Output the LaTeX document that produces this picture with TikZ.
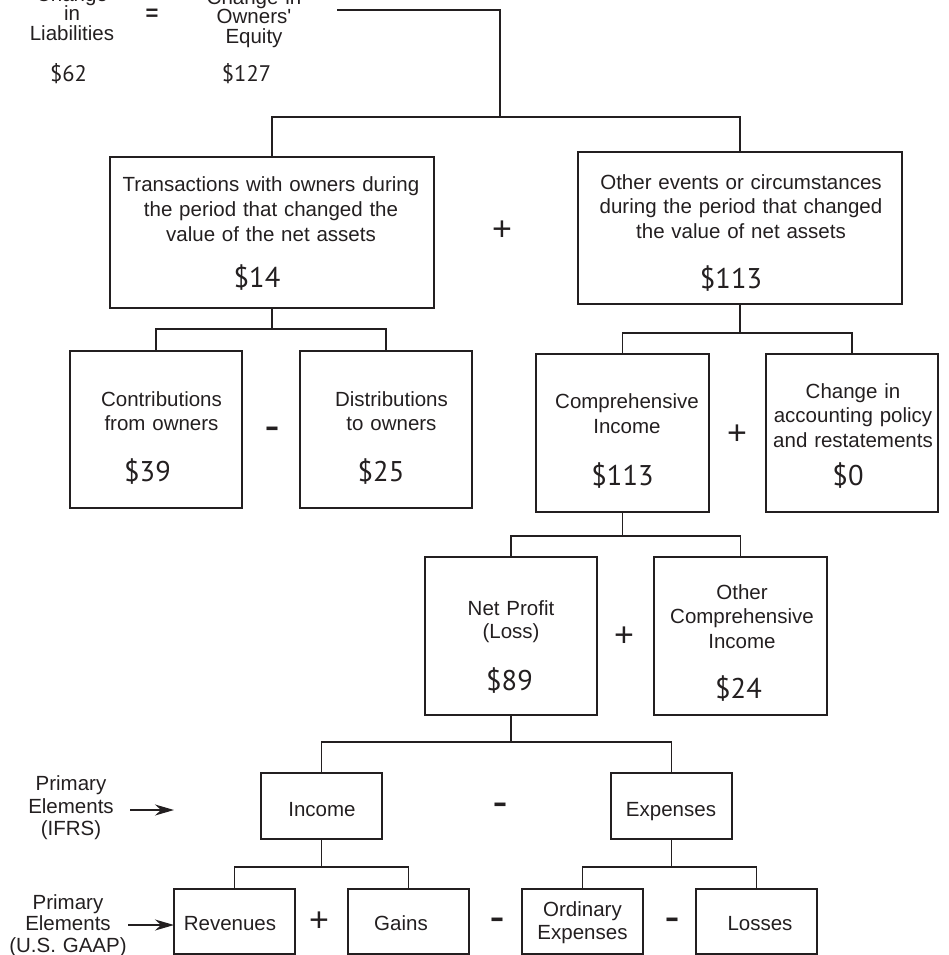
\documentclass[tikz,border=0pt]{standalone}
\usepackage{fontspec}
\setmainfont{Liberation Sans}
\newfontfamily\numfont{PT Sans}
\newfontfamily\opfont{DejaVu Sans}
\usetikzlibrary{arrows.meta}
\definecolor{ink}{HTML}{231F20}
\newcommand\treebranch[4]{%
  \draw[conn] (#1.south) -- (#1.south |- #4);
  \draw[conn] (#2.north) |- (#1.south |- #4) -| (#3.north);}
\begin{document}
\begin{tikzpicture}[x=1pt,y=-1pt,
  every node/.style={inner sep=0pt,outer sep=0pt,text=ink},
  box/.style={draw=ink,line width=1.5pt},
  conn/.style={draw=ink,line width=1.5pt},
  arr/.style={draw=ink,line width=1.5pt,-{Stealth[length=19pt,width=11pt,inset=6pt]}},
  lbl/.style={text width=420pt,align=center,anchor=base},
  num/.style={anchor=base,font=\numfont\fontsize{28.5}{30}\selectfont},
  topnum/.style={anchor=base,font=\numfont\fontsize{22.5}{24}\selectfont},
  plusop/.style={font=\fontsize{34}{34}\selectfont},
  minusop/.style={font=\opfont\bfseries\fontsize{28}{28}\selectfont},
]
\useasboundingbox (0,0) rectangle (948,955);

% top equation
\node[lbl,font=\fontsize{20.5}{19.5}\selectfont] (cl) at (72,1.5) {Change\\in\\Liabilities};
\node[font=\bfseries\fontsize{22}{22}\selectfont] (eq) at (152,15) {=};
\node[lbl,font=\fontsize{20.5}{19.5}\selectfont] (coe) at (254,4.5) {Change in\\Owners\textquotesingle\\Equity};
\node[topnum] (v62) at (68.5,81.7) {\$62};
\node[topnum] (v127) at (246.5,81.7) {\$127};

% boxes
\node[box,minimum width=324pt,minimum height=151pt] (b1) at (272,232.5) {};
\node[box,minimum width=324pt,minimum height=152pt] (b2) at (740,228) {};
\node[box,minimum width=172pt,minimum height=157pt] (b3) at (156,429.5) {};
\node[box,minimum width=172pt,minimum height=157pt] (b4) at (386,429.5) {};
\node[box,minimum width=173pt,minimum height=158pt] (b5) at (622.5,433) {};
\node[box,minimum width=172pt,minimum height=158pt] (b6) at (852,433) {};
\node[box,minimum width=172pt,minimum height=158pt] (b7) at (511,636) {};
\node[box,minimum width=173pt,minimum height=158pt] (b8) at (740.5,636) {};
\node[box,minimum width=121pt,minimum height=66pt] (b9) at (321.5,806) {};
\node[box,minimum width=121pt,minimum height=66pt] (b10) at (671.5,806) {};
\node[box,minimum width=121pt,minimum height=65pt] (b11) at (234.5,921.5) {};
\node[box,minimum width=121pt,minimum height=65pt] (b12) at (408.5,921.5) {};
\node[box,minimum width=121pt,minimum height=65pt] (b13) at (582.5,921.5) {};
\node[box,minimum width=121pt,minimum height=65pt] (b14) at (756.5,921.5) {};

% box texts
\node[lbl,font=\fontsize{20.5}{25}\selectfont] (t1) at (271,191) {Transactions with owners during\\the period that changed the\\value of the net assets};
\node[num] (v1) at (257,287) {\$14};
\node[lbl,font=\fontsize{20.5}{24.5}\selectfont] (t2) at (741,189.5) {Other events or circumstances\\during the period that changed\\the value of net assets};
\node[num] (v2) at (731,288) {\$113};
\node[lbl,font=\fontsize{20.5}{24}\selectfont] (t3) at (161.5,406) {Contributions\\from owners};
\node[num] (v3) at (147.5,481.7) {\$39};
\node[lbl,font=\fontsize{20.5}{24}\selectfont] (t4) at (391.5,406) {Distributions\\to owners};
\node[num] (v4) at (381,481.7) {\$25};
\node[lbl,font=\fontsize{20.5}{25}\selectfont] (t5) at (627,408) {Comprehensive\\Income};
\node[num] (v5) at (622.5,485) {\$113};
\node[lbl,font=\fontsize{20.5}{24.5}\selectfont] (t6) at (853,398) {Change in\\accounting policy\\and restatements};
\node[num] (v6) at (848,485) {\$0};
\node[lbl,font=\fontsize{20.5}{23}\selectfont] (t7) at (511,615) {Net Profit\\(Loss)};
\node[num] (v7) at (509.5,690) {\$89};
\node[lbl,font=\fontsize{20.5}{24.5}\selectfont] (t8) at (742,599) {Other\\Comprehensive\\Income};
\node[num] (v8) at (738.5,698) {\$24};
\node[lbl,font=\fontsize{20.5}{24}\selectfont] (t9) at (322,816) {Income};
\node[lbl,font=\fontsize{20.5}{24}\selectfont] (t10) at (671,816) {Expenses};
\node[lbl,font=\fontsize{20.5}{24}\selectfont] (t11) at (230,930) {Revenues};
\node[lbl,font=\fontsize{20.5}{24}\selectfont] (t12) at (401,930) {Gains};
\node[lbl,font=\fontsize{20.5}{23.5}\selectfont] (t13) at (582.5,916) {Ordinary\\Expenses};
\node[lbl,font=\fontsize{20.5}{24}\selectfont] (t14) at (760,930) {Losses};

% operators
\node[plusop] (p1) at (502,231) {+};
\node[plusop] (p2) at (737,435) {+};
\node[plusop] (p3) at (624,637) {+};
\node[plusop] (p4) at (319,922) {+};
\node[minusop] (m1) at (272,432) {–};
\node[minusop] (m2) at (500,808) {–};
\node[minusop] (m3) at (497,923) {–};
\node[minusop] (m4) at (672,923) {–};

% side labels
\node[lbl,font=\fontsize{20.5}{22.5}\selectfont] (pe1) at (71,790.7) {Primary\\Elements\\(IFRS)};
\node[lbl,font=\fontsize{20.5}{21.5}\selectfont] (pe2) at (68,909) {Primary\\Elements\\(U.S. GAAP)};
\coordinate (a1s) at (130,810);
\coordinate (a1e) at (174,810);
\coordinate (a2s) at (128,925);
\draw[arr] (a1s) -- (a1e);
\draw[arr] (a2s) -- (a2s -| b11.west);

% connectors
\coordinate (eqend) at (337,10);
\coordinate (topj) at (500,117);
\draw[conn] (eqend) -| (topj);
\draw[conn] (b1.north) |- (topj) -| (b2.north);
\coordinate (j1) at (0,329);
\coordinate (j2) at (0,333);
\coordinate (j5) at (0,536);
\coordinate (j7) at (0,742);
\coordinate (j9) at (0,867);
\treebranch{b1}{b3}{b4}{j1}
\treebranch{b2}{b5}{b6}{j2}
\treebranch{b5}{b7}{b8}{j5}
\treebranch{b7}{b9}{b10}{j7}
\treebranch{b9}{b11}{b12}{j9}
\treebranch{b10}{b13}{b14}{j9}
\end{tikzpicture}
\end{document}
